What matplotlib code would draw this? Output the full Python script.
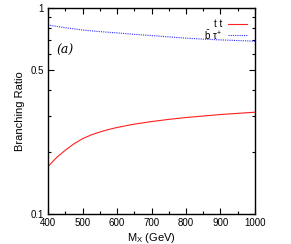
import numpy as np
import matplotlib
matplotlib.use('Agg')
import matplotlib.pyplot as plt
from matplotlib.ticker import FixedLocator, NullFormatter

# data
mx_tt = [400, 425, 450, 475, 500, 525, 550, 575, 600, 650, 700, 750, 800, 850, 900, 950, 1000]
br_tt = [0.170, 0.188, 0.204, 0.219, 0.232, 0.242, 0.250, 0.257, 0.263, 0.273, 0.281,
         0.288, 0.294, 0.299, 0.304, 0.308, 0.312]
mx_btau = [400, 450, 500, 550, 600, 650, 700, 750, 800, 850, 900, 950, 1000]
br_btau = [0.827, 0.802, 0.782, 0.768, 0.757, 0.745, 0.735, 0.724, 0.714, 0.706, 0.700, 0.695, 0.690]

plt.rcParams['font.family'] = ['Liberation Sans', 'DejaVu Sans']

fig = plt.figure(figsize=(2.91, 2.44), dpi=100)
ax = fig.add_axes([48/291, 1 - 214/244, 207/291, 206/244])

ax.plot(mx_tt, br_tt, color='#ff2020', lw=0.8)
ax.plot(mx_btau, br_btau, color='#3030ff', lw=0.8, ls=(0, (1, 1)))

ax.set_yscale('log')
ax.set_xlim(400, 1000)
ax.set_ylim(0.1, 1)
ax.yaxis.set_major_locator(FixedLocator([0.1, 0.5, 1]))
ax.yaxis.set_minor_locator(FixedLocator([0.2, 0.3, 0.4, 0.6, 0.7, 0.8, 0.9]))
ax.yaxis.set_minor_formatter(NullFormatter())
ax.set_yticklabels(['0.1', '0.5', '1'])
ax.set_xticks(range(400, 1001, 100))
ax.set_xticks(range(450, 1000, 100), minor=True)
ax.tick_params(which='both', direction='in', top=True, right=True, labelsize=7, width=0.8)
ax.tick_params(which='major', length=4, pad=3)
ax.tick_params(which='minor', length=2)
for s in ax.spines.values():
    s.set_linewidth(1.0)

ax.set_xlabel('M$_{\\mathregular{X}}$ (GeV)', fontsize=8, labelpad=2)
ax.set_ylabel('Branching Ratio', fontsize=8, labelpad=4)

ax.text(0.04, 0.796, '(a)', transform=ax.transAxes, fontsize=9, style='italic',
        family='DejaVu Serif', va='center')

# legend drawn by hand to mimic the gnuplot key
ax.text(0.84, 0.922, 't t', transform=ax.transAxes, fontsize=7, ha='right', va='center')
ax.plot([0.87, 0.96], [0.922, 0.922], transform=ax.transAxes, color='#ff2020', lw=0.8)
ax.text(0.84, 0.869, '$\\mathregular{\\bar{b}\\ \\tau^{+}}$', transform=ax.transAxes, fontsize=7,
        ha='right', va='center')
ax.plot([0.87, 0.96], [0.869, 0.869], transform=ax.transAxes, color='#3030ff', lw=0.8, ls=(0, (1, 1)))

fig.savefig('out.png', dpi=100)
